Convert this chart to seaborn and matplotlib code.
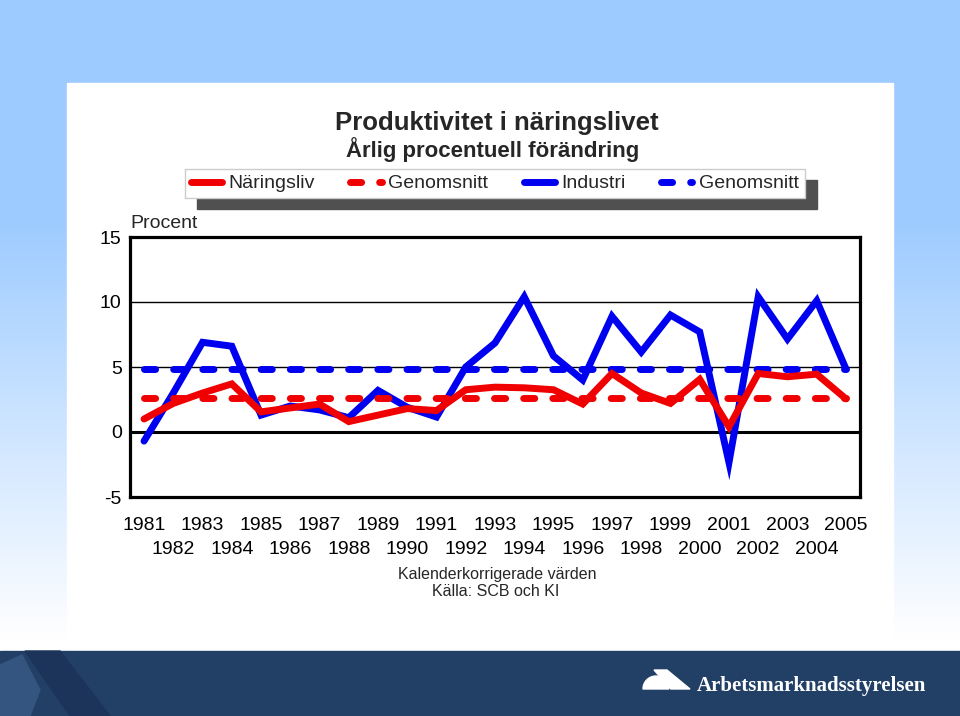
import numpy as np
import matplotlib
matplotlib.use("Agg")
import matplotlib.pyplot as plt
import seaborn as sns
from matplotlib.lines import Line2D
from matplotlib.patches import Rectangle, Polygon, Wedge

# Data (annual % change)
years = list(range(1981, 2006))
naringsliv = [1.0, 2.2, 3.0, 3.7, 1.55, 1.85, 2.15, 0.8, 1.3, 1.8, 1.65, 3.25, 3.45,
              3.4, 3.25, 2.15, 4.5, 3.0, 2.2, 4.05, 0.4, 4.5, 4.25, 4.45, 2.55]
industri = [-0.7, 3.0, 6.9, 6.6, 1.3, 2.0, 1.7, 1.1, 3.2, 1.9, 1.15, 5.0, 6.85,
            10.4, 5.85, 4.0, 8.9, 6.15, 9.0, 7.7, -2.35, 10.4, 7.15, 10.1, 4.85]
avg_naringsliv = 2.65
avg_industri = 4.85
legend_labels = ["Näringsliv", "Genomsnitt", "Industri", "Genomsnitt"]
y_ticks = [-5, 0, 5, 10, 15]

RED = "#f00000"
BLUE = "#0000f0"
W, H = 960, 716


def fx(px):
    return px / W


def fy(py):
    return 1 - py / H


sns.set_style("white")
plt.rcParams["font.family"] = ["Liberation Sans", "DejaVu Sans"]
plt.rcParams["axes.unicode_minus"] = False

fig = plt.figure(figsize=(9.6, 7.16), dpi=100)

# slide background: blue gradient, white panel, navy footer
bg = fig.add_axes([0, 0, 1, 1], zorder=-10)
rows = np.linspace(0, H, 400)
t = np.clip((rows - 220) / (640 - 220), 0, 1)
top = np.array([157, 203, 255]) / 255
grad = top[None, :] * (1 - t[:, None]) + t[:, None]
bg.imshow(grad[:, None, :], extent=[0, W, H, 0], aspect="auto")
bg.add_patch(Rectangle((67, 83), 826, 557, color="white"))
bg.add_patch(Rectangle((0, 651), W, 65, color="#223f66"))
bg.add_patch(Polygon([(0, 665), (22, 655), (40, 690), (30, 716), (0, 716)],
                     closed=True, color="#34557f"))
bg.add_patch(Polygon([(25, 651), (60, 651), (110, 716), (70, 716)],
                     closed=True, color="#1c3459"))
# logo mark (y axis is flipped here, so the upper half is 180..360)
bg.add_patch(Wedge((656, 689), 13, 180, 360, color="white"))
bg.add_patch(Polygon([(654, 670), (667, 670), (690, 689), (671, 689)],
                     closed=True, color="white"))
bg.set_xlim(0, W)
bg.set_ylim(H, 0)
bg.set_axis_off()

# main chart
ax = fig.add_axes([fx(130), fy(497), (860 - 130) / W, (497 - 237) / H])
ax.set_facecolor("white")

sns.lineplot(x=years, y=industri, ax=ax, color=BLUE, linewidth=5,
             solid_capstyle="round", solid_joinstyle="miter", zorder=3)
ax.plot(years, [avg_industri] * len(years), color=BLUE, linewidth=5,
        dashes=(1.6, 2.6), dash_capstyle="round", zorder=4)
sns.lineplot(x=years, y=naringsliv, ax=ax, color=RED, linewidth=5,
             solid_capstyle="round", solid_joinstyle="miter", zorder=5)
ax.plot(years, [avg_naringsliv] * len(years), color=RED, linewidth=5,
        dashes=(1.6, 2.6), dash_capstyle="round", zorder=6)

ax.set_xlim(years[0] - 0.48, years[-1] + 0.48)
ax.set_ylim(-5, 15)
ax.set_yticks(y_ticks)
ax.set_yticks(range(-5, 16), minor=True)
ax.set_xticks(years[::2], [str(y) for y in years[::2]])
ax.set_xticks(years[1::2], [str(y) for y in years[1::2]], minor=True)
ax.tick_params(axis="both", which="both", direction="in", width=2, colors="black",
               labelsize=14, right=False, top=False)
ax.tick_params(axis="y", which="major", length=7, pad=6)
ax.tick_params(axis="y", which="minor", length=7)
ax.tick_params(axis="x", which="major", length=8, pad=14.5)
ax.tick_params(axis="x", which="minor", length=8, pad=32)
ax.set_xlabel("")
ax.set_ylabel("")

ax.yaxis.grid(True, which="major", color="black", linewidth=1)
ax.axhline(0, color="black", linewidth=2.2, zorder=2)
ax.set_axisbelow(True)
for s in ax.spines.values():
    s.set_visible(True)
    s.set_color("black")
    s.set_linewidth(2.3)

# legend with offset drop shadow
handles = [
    Line2D([], [], color=RED, linewidth=5, solid_capstyle="round"),
    Line2D([], [], color=RED, linewidth=5, dashes=(1.6, 2.6), dash_capstyle="round"),
    Line2D([], [], color=BLUE, linewidth=5, solid_capstyle="round"),
    Line2D([], [], color=BLUE, linewidth=5, dashes=(1.6, 2.6), dash_capstyle="round"),
]
leg = fig.legend(handles, legend_labels, loc="center", ncol=4, mode="expand",
                 bbox_to_anchor=(fx(185), fy(199), (805 - 185) / W, (199 - 168) / H),
                 fontsize=14, frameon=True, fancybox=False, framealpha=1,
                 edgecolor="#cccccc", handlelength=1.6, handletextpad=0.35,
                 borderpad=0.3, borderaxespad=0, columnspacing=1.0)
leg.get_frame().set_linewidth(1)
leg.set_zorder(6)

# text
fig.text(fx(497), fy(123), "Produktivitet i näringslivet", ha="center", va="center",
         fontsize=18.5, fontweight="bold")
fig.text(fx(493), fy(150), "Årlig procentuell förändring", ha="center", va="center",
         fontsize=16, fontweight="bold")
fig.text(fx(130), fy(223), "Procent", ha="left", va="center", fontsize=14)
fig.text(fx(497), fy(574), "Kalenderkorrigerade värden", ha="center", va="center",
         fontsize=11.5)
fig.text(fx(496), fy(591), "Källa: SCB och KI", ha="center", va="center", fontsize=11.5)
fig.text(fx(697), fy(686), "Arbetsmarknadsstyrelsen", ha="left", va="center",
         fontsize=15, fontweight="bold", color="white",
         family=["Liberation Serif", "DejaVu Serif"])

fig.canvas.draw()
bb = leg.get_window_extent()
shadow = Rectangle(((bb.x0 + 12) / W, (bb.y0 - 11) / H), bb.width / W, bb.height / H,
                   transform=fig.transFigure, color="#505050", zorder=5)
fig.add_artist(shadow)

fig.savefig("out.png", dpi=100)
